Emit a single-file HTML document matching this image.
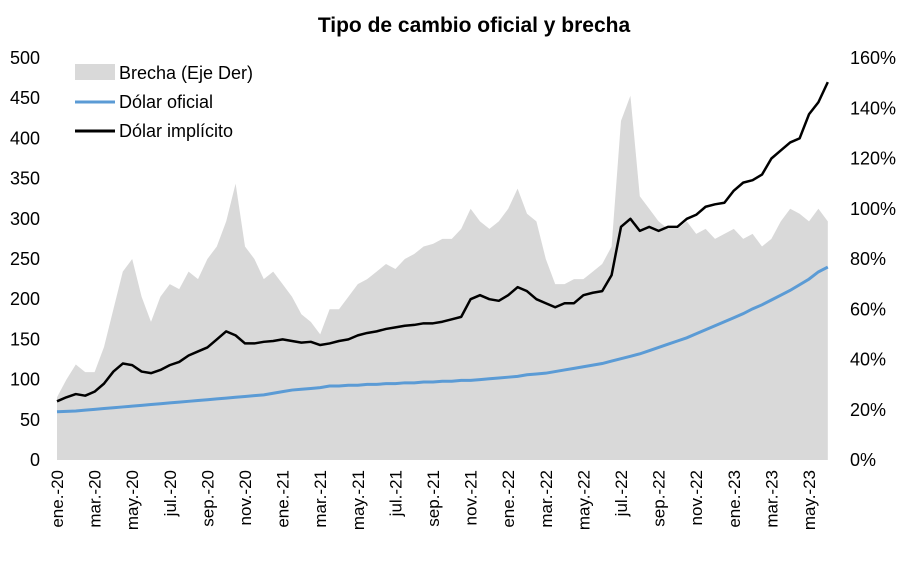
<!DOCTYPE html>
<html><head><meta charset="utf-8"><style>
body{margin:0;background:#fff;}
svg{font-family:"Liberation Sans",Arial,sans-serif;}
</style></head><body>
<svg id="c" width="917" height="562"></svg>
<script>
const months=["ene.-20","mar.-20","may.-20","jul.-20","sep.-20","nov.-20","ene.-21","mar.-21","may.-21","jul.-21","sep.-21","nov.-21","ene.-22","mar.-22","may.-22","jul.-22","sep.-22","nov.-22","ene.-23","mar.-23","may.-23"];
const leftTicks=[0,50,100,150,200,250,300,350,400,450,500];
const rightTicks=[0,20,40,60,80,100,120,140,160];
const brecha=[25,32,38,35,35,45,60,75,80,65,55,65,70,68,75,72,80,85,95,110,85,80,72,75,
70,65,58,55,50,60,60,65,70,72,75,78,76,80,82,85,86,88,88,92,100,95,92,95,
100,108,98,95,80,70,70,72,72,75,78,85,135,145,105,100,95,92,92,95,90,92,88,90,
92,88,90,85,88,95,100,98,95,100,95];
const implicito=[73,78,82,80,85,95,110,120,118,110,108,112,118,122,130,135,140,150,160,155,145,145,147,148,
150,148,146,147,143,145,148,150,155,158,160,163,165,167,168,170,170,172,175,178,200,205,200,198,
205,215,210,200,195,190,195,195,205,208,210,230,290,300,285,290,285,290,290,300,305,315,318,320,
335,345,348,355,375,385,395,400,430,445,470];
const oficial=[60,60.5,61,62,63,64,65,66,67,68,69,70,71,72,73,74,75,76,77,78,79,80,81,83,
85,87,88,89,90,92,92,93,93,94,94,95,95,96,96,97,97,98,98,99,99,100,101,102,
103,104,106,107,108,110,112,114,116,118,120,123,126,129,132,136,140,144,148,152,157,162,167,172,
177,182,188,193,199,205,211,218,225,234,240];
const NS="http://www.w3.org/2000/svg",svg=document.getElementById('c');
const X0=57,PM=18.8,Y0=460,YT=58;
const xi=i=>X0+i*PM/2;
const yl=v=>Y0-v/500*(Y0-YT);
const yr=v=>Y0-v/160*(Y0-YT);
function mk(t,a,txt){const e=document.createElementNS(NS,t);for(const k in a)e.setAttribute(k,a[k]);if(txt!=null)e.textContent=txt;svg.appendChild(e);return e;}
let d="M"+xi(0)+","+Y0;brecha.forEach((v,i)=>d+=" L"+xi(i)+","+yr(v));d+=" L"+xi(brecha.length-1)+","+Y0+"Z";
let e=mk("path",{d:d,fill:"#d9d9d9"});


let p="";oficial.forEach((v,i)=>p+=(i?" L":"M")+xi(i)+","+yl(v));
e=mk("path",{d:p,fill:"none",stroke:"#5b9bd5","stroke-width":3});


p="";implicito.forEach((v,i)=>p+=(i?" L":"M")+xi(i)+","+yl(v));
e=mk("path",{d:p,fill:"none",stroke:"#000","stroke-width":2.5,"stroke-linejoin":"round"});


leftTicks.forEach(v=>{const t=mk("text",{x:40,y:yl(v)+6,"text-anchor":"end","font-size":18},v);

});
rightTicks.forEach(v=>{const t=mk("text",{x:850,y:yr(v)+6,"text-anchor":"start","font-size":18},v+"%");

});
months.forEach((m,i)=>{const x=X0+i*2*PM+6;const t=mk("text",{x:x,y:470,"text-anchor":"end","font-size":17,transform:"rotate(-90 "+x+" 470)"},m);

});
e=mk("text",{x:474,y:32,"text-anchor":"middle","font-size":21,"font-weight":"bold"},"Tipo de cambio oficial y brecha");


e=mk("rect",{x:75,y:64,width:40,height:16,fill:"#d9d9d9"});


e=mk("text",{x:119,y:79,"font-size":18},"Brecha (Eje Der)");


e=mk("line",{x1:75,x2:115,y1:102,y2:102,stroke:"#5b9bd5","stroke-width":3});


e=mk("text",{x:119,y:108,"font-size":18},"Dólar oficial");


e=mk("line",{x1:75,x2:115,y1:131,y2:131,stroke:"#000","stroke-width":3});


e=mk("text",{x:119,y:137,"font-size":18},"Dólar implícito");


</script>
</body></html>
